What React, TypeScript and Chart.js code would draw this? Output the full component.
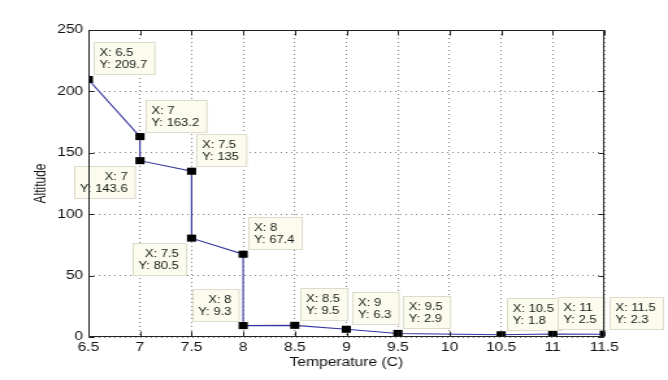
import { useEffect, useRef } from 'react';
import { Chart, registerables } from 'chart.js';

Chart.register(...registerables);

// ---- data ----
const temperature = [6.5, 7, 7, 7.5, 7.5, 8, 8, 8.5, 9, 9.5, 10.5, 11, 11.5];
const altitude = [209.7, 163.2, 143.6, 135, 80.5, 67.4, 9.3, 9.5, 6.3, 2.9, 1.8, 2.5, 2.3];
const xTicks = [6.5, 7, 7.5, 8, 8.5, 9, 9.5, 10, 10.5, 11, 11.5];
const yTicks = [0, 50, 100, 150, 200, 250];
const xTitle = 'Temperature (C)';
const yTitle = 'Altitude';
// data-tip placement (style): ur = upper right, ll = lower left, ul = upper left
const tipPlacement = ['ur', 'ur', 'll', 'ur', 'll', 'ur', 'ul', 'ur', 'ur', 'ur', 'ur', 'ur', 'ur'];

// the reference is horizontally stretched; draw narrow and stretch via CSS
const OUT_W = 668;
const OUT_H = 380;
const STRETCH = 1.3;
const W = Math.round(OUT_W / STRETCH);

const FONT = '"Liberation Sans", Arial, sans-serif';

const tipsPlugin = {
  id: 'dataTips',
  afterDatasetsDraw(chart: any) {
    const ctx = chart.ctx;
    const meta = chart.getDatasetMeta(0);
    ctx.save();
    ctx.font = `10px ${FONT}`;
    ctx.textBaseline = 'middle';
    meta.data.forEach((pt: any, i: number) => {
      const px = pt.x;
      const py = pt.y;
      const l1 = `X: ${temperature[i]}`;
      const l2 = `Y: ${altitude[i]}`;
      const tw = Math.max(ctx.measureText(l1).width, ctx.measureText(l2).width);
      const bw = tw + 10;
      const bh = 32;
      const pl = tipPlacement[i];
      let left: number, top: number;
      if (pl === 'ur') {
        left = px + 4;
        top = py - 5 - bh;
      } else if (pl === 'll') {
        left = px - 4 - bw;
        top = py + 5;
      } else {
        left = px - 4 - bw;
        top = py - 5 - bh;
      }
      left = Math.round(left) + 0.5;
      top = Math.round(top) + 0.5;
      ctx.fillStyle = '#fcfcee';
      ctx.strokeStyle = '#dddbcc';
      ctx.lineWidth = 1;
      ctx.fillRect(left, top, bw, bh);
      ctx.strokeRect(left, top, bw, bh);
      ctx.fillStyle = '#1a1a1a';
      if (pl === 'ur') {
        ctx.textAlign = 'left';
        ctx.fillText(l1, left + 4, top + 10.5);
        ctx.fillText(l2, left + 4, top + 22.5);
      } else {
        ctx.textAlign = 'right';
        ctx.fillText(l1, left + bw - 6, top + 10.5);
        ctx.fillText(l2, left + bw - 6, top + 22.5);
      }
    });
    ctx.restore();
  },
  afterDraw(chart: any) {
    const ctx = chart.ctx;
    const { left, right, top, bottom } = chart.chartArea;
    const xs = chart.scales.x;
    const ys = chart.scales.y;
    ctx.save();
    ctx.strokeStyle = '#222';
    ctx.lineWidth = 1;
    const L = Math.round(left) + 0.5;
    const R = Math.round(right) - 0.5;
    const T = Math.round(top) + 0.5;
    const B = Math.round(bottom) - 0.5;
    ctx.beginPath();
    ctx.rect(L, T, R - L, B - T);
    xTicks.forEach((v) => {
      const x = Math.round(xs.getPixelForValue(v)) + 0.5;
      ctx.moveTo(x, B);
      ctx.lineTo(x, B - 5);
      ctx.moveTo(x, T);
      ctx.lineTo(x, T + 5);
    });
    yTicks.forEach((v) => {
      const y = Math.round(ys.getPixelForValue(v)) + 0.5;
      ctx.moveTo(L, y);
      ctx.lineTo(L + 4, y);
      ctx.moveTo(R, y);
      ctx.lineTo(R - 4, y);
    });
    ctx.stroke();

    ctx.fillStyle = '#111';
    ctx.font = `12px ${FONT}`;
    ctx.textAlign = 'center';
    ctx.textBaseline = 'middle';
    ctx.fillText(xTitle, (left + right) / 2, 363);
    ctx.translate(32, (top + bottom) / 2);
    ctx.rotate(-Math.PI / 2);
    ctx.fillText(yTitle, 0, 0);
    ctx.restore();
  },
};

export default function App() {
  const ref = useRef<HTMLCanvasElement | null>(null);

  useEffect(() => {
    if (!ref.current) return;
    const points = temperature.map((t, i) => ({ x: t, y: altitude[i] }));
    const chart = new Chart(ref.current, {
      type: 'scatter',
      data: {
        datasets: [
          {
            data: points,
            showLine: true,
            borderColor: '#34349e',
            borderWidth: 1.1,
            pointStyle: 'rect',
            pointRadius: 5,
            pointBackgroundColor: '#000',
            pointBorderWidth: 0,
            pointBorderColor: '#000',
          },
        ],
      },
      options: {
        responsive: false,
        animation: false,
        devicePixelRatio: 1,
        layout: { padding: { top: 30, right: W - 465, bottom: 0, left: 0 } },
        plugins: { legend: { display: false }, tooltip: { enabled: false } },
        scales: {
          x: {
            type: 'linear',
            min: 6.5,
            max: 11.5,
            afterBuildTicks: (s: any) => {
              s.ticks = xTicks.map((v) => ({ value: v }));
            },
            afterFit: (s: any) => {
              s.height = 43;
            },
            ticks: {
              autoSkip: false,
              maxRotation: 0,
              padding: 3,
              color: '#111',
              font: { family: FONT, size: 12 },
              callback: (v: any) => String(v),
            },
            grid: { color: '#8a7e74', lineWidth: 1, drawTicks: false },
            border: { display: false, dash: [1, 3] },
          },
          y: {
            type: 'linear',
            min: 0,
            max: 250,
            afterBuildTicks: (s: any) => {
              s.ticks = yTicks.map((v) => ({ value: v }));
            },
            afterFit: (s: any) => {
              s.width = 68;
            },
            ticks: {
              padding: 4,
              color: '#111',
              font: { family: FONT, size: 12 },
              callback: (v: any) => String(v),
            },
            grid: { color: '#8a7e74', lineWidth: 1, drawTicks: false },
            border: { display: false, dash: [1, 3] },
          },
        },
      },
      plugins: [tipsPlugin],
    });
    return () => chart.destroy();
  }, []);

  return (
    <div style={{ position: 'fixed', left: 0, top: 0, width: OUT_W, height: OUT_H, background: '#fff' }}>
      <canvas
        ref={ref}
        width={W}
        height={OUT_H}
        style={{ width: `${OUT_W}px`, height: `${OUT_H}px`, display: 'block' }}
      />
    </div>
  );
}
